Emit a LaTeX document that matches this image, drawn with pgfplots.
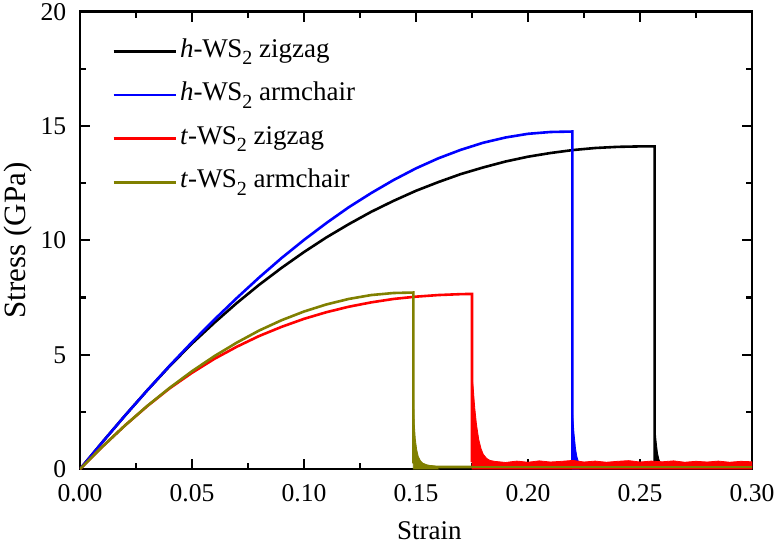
\documentclass[border=0pt]{standalone}
\usepackage{fontspec}
\setmainfont{Liberation Serif}
\usepackage{pgfplots}
\pgfplotsset{compat=1.18}
\definecolor{olv}{RGB}{128,128,0}
\newcommand{\ws}{W\kern-0.3pt S\raisebox{-3.8pt}{\fontsize{10}{10}\selectfont 2}}
\begin{document}
\begin{tikzpicture}
\begin{axis}[
  name=ax,
  scale only axis, width=336pt, height=228.7pt,
  xmin=0, xmax=0.30, ymin=0, ymax=20,
  xtick={0,0.05,0.10,0.15,0.20,0.25,0.30},
  ytick={0,5,10,15,20},
  minor x tick num=1, minor y tick num=1,
  tick align=inside, major tick length=5pt, minor tick length=3pt,
  axis line style={line width=1.2pt},
  tick style={line width=1.1pt, black},
  /pgf/number format/assume math mode=true,
  tick label style={font=\fontsize{12.8}{15}\selectfont},
  xticklabel style={/pgf/number format/.cd, fixed, fixed zerofill, precision=2, /tikz/.cd, anchor=base, yshift=-16.2pt},
  yticklabel style={xshift=-3.4pt},
  xlabel={Strain},
  xlabel style={font=\fontsize{13.5}{16}\selectfont, at={(axis description cs:0.52,-0.155)}, anchor=base},
  ylabel={Stress (GPa)},
  ylabel style={font=\fontsize{15.5}{18}\selectfont, at={(axis description cs:-0.0818,0.5)}, anchor=base},
  legend style={draw=none, fill=none, at={(axis description cs:0,1)}, anchor=north west,
    xshift=13pt, yshift=-10pt, row sep=6.3pt, font=\fontsize{13.5}{15}\selectfont,
    nodes={inner sep=1.5pt, text height=9pt, text depth=3.5pt}},
  legend cell align=left,
  legend image code/.code={\draw[#1] (0pt,0pt) -- (31pt,0pt);},
  every axis plot/.append style={line width=1.3pt},
]
% h-WS2 zigzag
\addplot[black] coordinates {
(0,0) (0.01,1.18) (0.02,2.33) (0.03,3.44) (0.04,4.50) (0.05,5.49) (0.06,6.40) (0.07,7.26)
(0.08,8.06) (0.09,8.80) (0.10,9.49) (0.11,10.13) (0.12,10.71) (0.13,11.25) (0.14,11.73)
(0.15,12.17) (0.16,12.55) (0.17,12.90) (0.18,13.19) (0.19,13.45) (0.20,13.66) (0.21,13.82)
(0.22,13.95) (0.23,14.04) (0.24,14.09) (0.25,14.11) (0.2565,14.11) (0.2565,0.4) (0.2590,0.2) (0.30,0.2)};
\addlegendentry{\textit{h}-\ws{} zigzag}
% h-WS2 armchair
\addplot[blue] coordinates {
(0,0) (0.01,1.18) (0.02,2.33) (0.03,3.44) (0.04,4.52) (0.05,5.55) (0.06,6.54) (0.07,7.48)
(0.08,8.38) (0.09,9.23) (0.10,10.02) (0.11,10.76) (0.12,11.45) (0.13,12.07) (0.14,12.64)
(0.15,13.15) (0.16,13.59) (0.17,13.96) (0.18,14.27) (0.19,14.50) (0.20,14.66) (0.21,14.74)
(0.2198,14.76) (0.2198,0.4) (0.2228,0.2) (0.30,0.2)};
\addlegendentry{\textit{h}-\ws{} armchair}
% t-WS2 zigzag
\addplot[red] coordinates {
(0,0) (0.01,0.98) (0.02,1.90) (0.03,2.75) (0.04,3.53) (0.05,4.21) (0.06,4.82) (0.07,5.35)
(0.08,5.82) (0.09,6.22) (0.10,6.57) (0.11,6.86) (0.12,7.10) (0.13,7.29) (0.14,7.44)
(0.15,7.54) (0.16,7.61) (0.17,7.65) (0.1750,7.66) (0.1750,0.3)};
\addlegendentry{\textit{t}-\ws{} zigzag}
% t-WS2 armchair
\addplot[olv] coordinates {
(0,0) (0.01,0.98) (0.02,1.90) (0.03,2.76) (0.04,3.55) (0.05,4.28) (0.06,4.94) (0.07,5.53)
(0.08,6.06) (0.09,6.51) (0.10,6.89) (0.11,7.20) (0.12,7.44) (0.13,7.61) (0.14,7.70)
(0.1488,7.72) (0.1488,0.3) (0.152,0.15) (0.16,0.09) (0.30,0.09)};
\addlegendentry{\textit{t}-\ws{} armchair}
% fracture tails (fast oscillations appear as filled bands)
\addplot[black, fill=black, line width=0.4pt, forget plot] coordinates {
(0.2565,0) (0.2565,2.0) (0.2572,1.2) (0.2578,0.7) (0.2585,0.4) (0.2590,0.3) (0.2592,0)} -- cycle;
\addplot[blue, fill=blue, line width=0.4pt, forget plot] coordinates {
(0.2198,0) (0.2198,2.5) (0.2205,1.6) (0.2212,0.9) (0.2218,0.55) (0.2225,0.32) (0.2228,0)} -- cycle;
\addplot[red, fill=red, line width=0.4pt, forget plot] coordinates {
(0.1750,0) (0.1750,4.0) (0.1755,3.6) (0.1762,2.7) (0.1770,1.95) (0.1780,1.3) (0.1790,0.9)
(0.1800,0.65) (0.1815,0.47) (0.1830,0.38) (0.185,0.34) (0.19,0.29) (0.195,0.35) (0.20,0.30)
(0.205,0.36) (0.21,0.31) (0.215,0.34) (0.22,0.38) (0.225,0.31) (0.23,0.35) (0.235,0.30)
(0.24,0.34) (0.245,0.37) (0.25,0.31) (0.255,0.35) (0.26,0.32) (0.265,0.36) (0.27,0.30)
(0.275,0.34) (0.28,0.31) (0.285,0.35) (0.29,0.30) (0.295,0.34) (0.30,0.32) (0.30,0)} -- cycle;
\addplot[olv, fill=olv, line width=0.4pt, forget plot] coordinates {
(0.1488,0) (0.1488,3.5) (0.1492,2.0) (0.1497,1.3) (0.1503,0.85) (0.151,0.55) (0.152,0.36)
(0.153,0.26) (0.155,0.18) (0.158,0.13) (0.16,0)} -- cycle;
\addplot[olv, line width=1.0pt, forget plot] coordinates {(0.16,0.08) (0.30,0.08)};
\end{axis}
\pgfresetboundingbox
\path[use as bounding box] ([xshift=-40pt,yshift=-37.5pt]ax.south west) rectangle ([xshift=11.5pt,yshift=5.85pt]ax.north east);
\end{tikzpicture}
\end{document}
